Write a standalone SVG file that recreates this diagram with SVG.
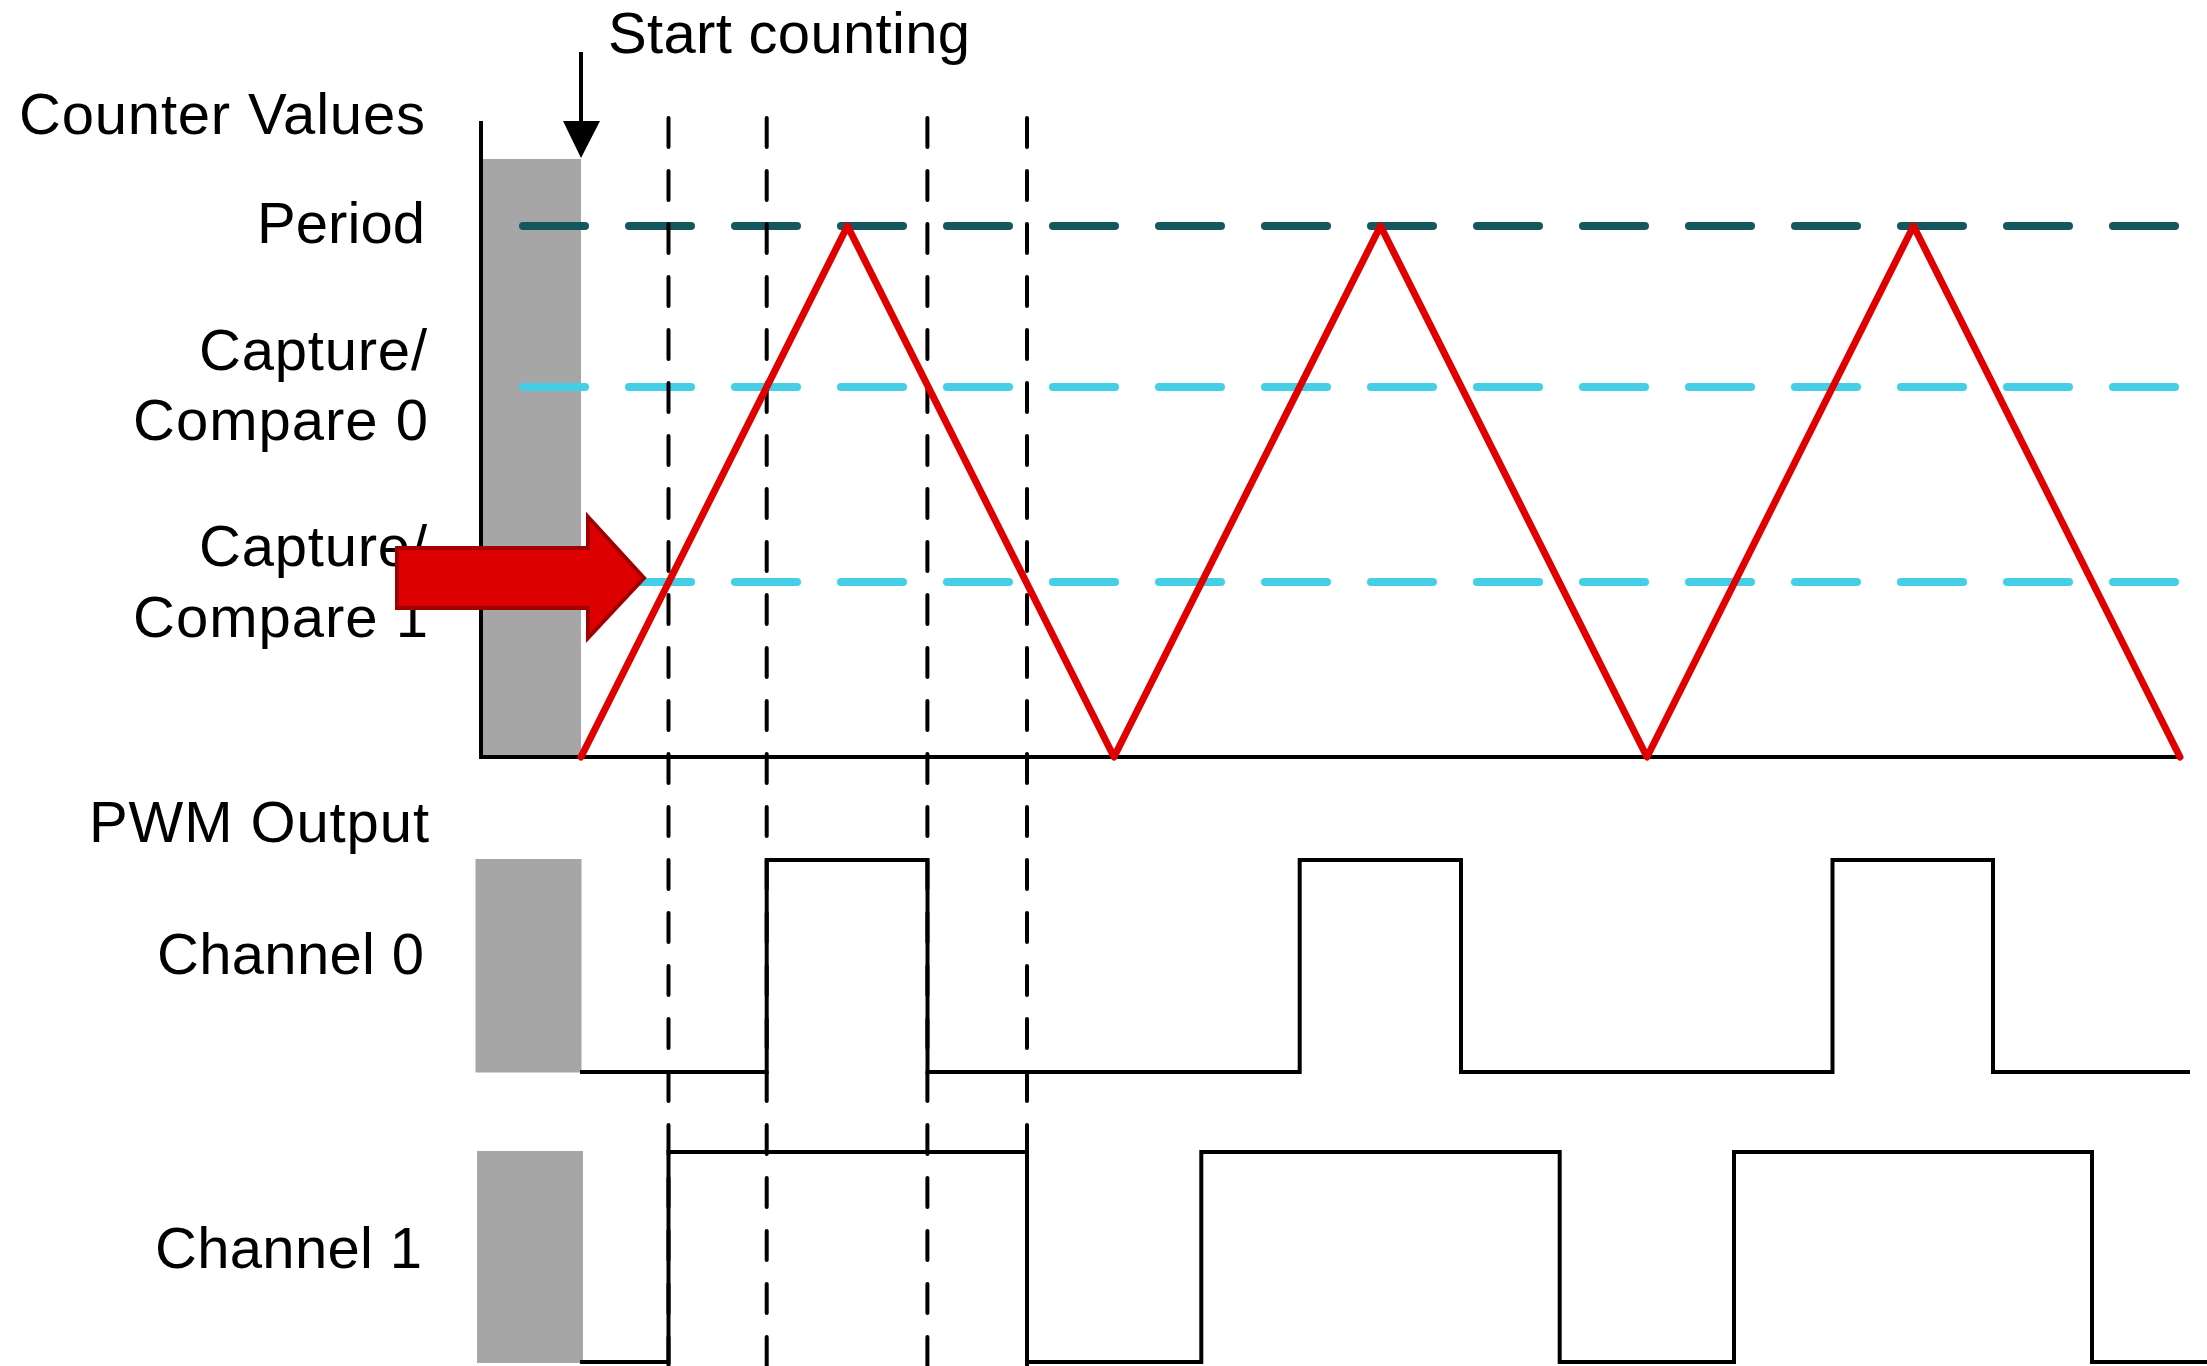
<svg xmlns="http://www.w3.org/2000/svg" width="2207" height="1366" viewBox="0 0 2207 1366">
<style>
text{font-family:"Liberation Sans",Arial,sans-serif;fill:#000;font-size:58px}
.gray{fill:#a6a6a6}
.axis{stroke:#000;stroke-width:4;fill:none}
.hd{fill:none;stroke-width:8;stroke-linecap:round;stroke-dasharray:62 44}
.per{stroke:#15575f}
.cc{stroke:#45cfe6}
.vd{stroke:#000;stroke-width:4;stroke-linecap:round;stroke-dasharray:29 24;fill:none}
.tri{fill:none;stroke:#e00000;stroke-width:7;stroke-linejoin:round;stroke-linecap:round}
.pwm{fill:none;stroke:#000;stroke-width:4}
</style>
<rect width="2207" height="1366" fill="#fff"/>
<g id="bars">
<rect class="gray" x="483" y="159" width="98" height="598"/>
<rect class="gray" x="475.5" y="859" width="106" height="213.5"/>
<rect class="gray" x="477" y="1151" width="106" height="212"/>
</g>
<g id="levels">
<path class="hd per" d="M523,226H2175"/>
<path class="hd cc" d="M523,387H2175"/>
<path class="hd cc" d="M523,582H2175"/>
</g>
<g id="axes">
<path class="axis" d="M481,121V757H2180"/>
</g>
<g id="markers">
<path class="vd" d="M668.5,118V1366"/>
<path class="vd" d="M766.7,118V1366"/>
<path class="vd" d="M927.4,118V1366"/>
<path class="vd" d="M1027,118V1366"/>
</g>
<g id="counter">
<path class="tri" d="M581,757L847.5,226L1114,757L1380.5,226L1647,757L1913.5,226L2180,757"/>
</g>
<g id="channel0">
<path class="pwm" d="M580,1072H766.7V860H927.5V1072H1299.7V860H1461V1072H1832.5V860H1993V1072H2190"/>
</g>
<g id="channel1">
<path class="pwm" d="M580,1362H668.5V1152H1027V1362H1201.3V1152H1559.7V1362H1734V1152H2092V1362H2207"/>
</g>
<g id="labels">
<text x="19" y="134" font-size="60" textLength="406">Counter Values</text>
<text x="608" y="53.3" font-size="56" textLength="362">Start counting</text>
<text x="257" y="243.3" textLength="168">Period</text>
<text x="199" y="370" textLength="228">Capture/</text>
<text x="133" y="440" textLength="295">Compare 0</text>
<text x="199" y="565.7" textLength="228">Capture/</text>
<text x="133" y="636.7" textLength="295">Compare 1</text>
<text x="89" y="841.7" font-size="55" textLength="340">PWM Output</text>
<text x="157" y="974" font-size="57" textLength="267">Channel 0</text>
<text x="155" y="1267.5" font-size="57" textLength="267">Channel 1</text>
</g>
<g id="start-arrow">
<path d="M581,52V125" stroke="#000" stroke-width="4"/>
<polygon points="563,121 600,121 581,158" fill="#000"/>
</g>
<g id="red-arrow">
<polygon points="397,548 588,548 588,517 644,578 588,638 588,608 397,608" fill="#dc0000" stroke="#a00000" stroke-width="4" stroke-linejoin="miter"/>
</g>
</svg>
